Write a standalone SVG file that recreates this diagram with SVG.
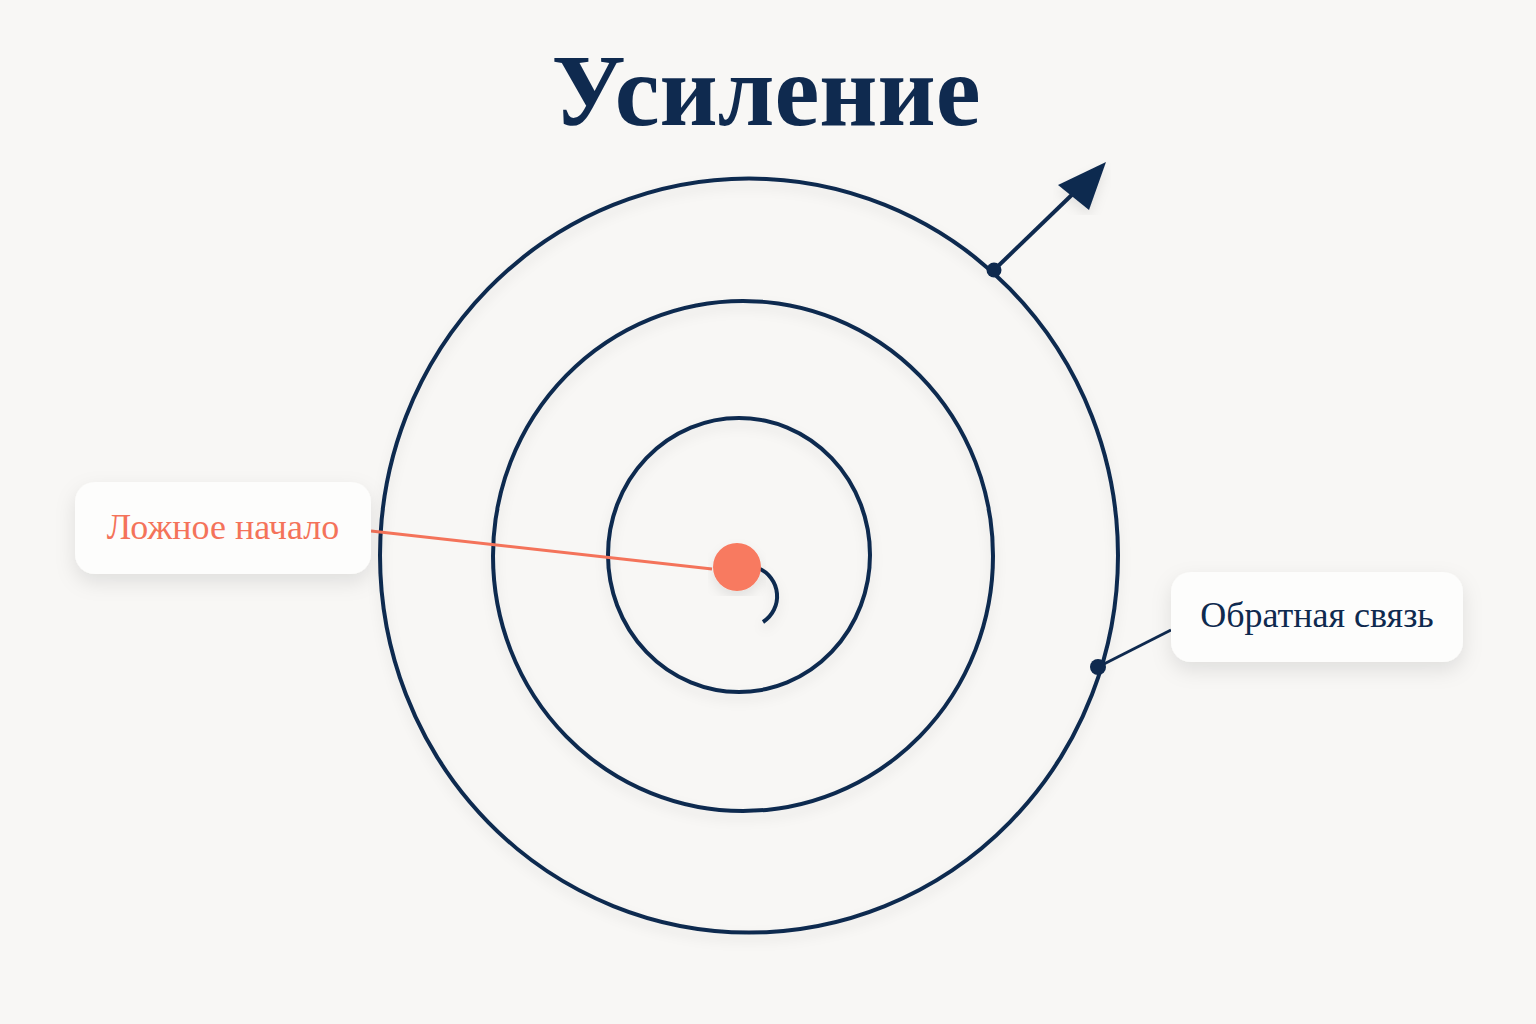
<svg xmlns="http://www.w3.org/2000/svg" width="1536" height="1024" viewBox="0 0 1536 1024">
  <defs>
    <filter id="shadow" x="-20%" y="-20%" width="140%" height="160%">
      <feDropShadow dx="0" dy="8" stdDeviation="10" flood-color="#000" flood-opacity="0.10"/>
    </filter>
    <filter id="soft" x="-10%" y="-10%" width="120%" height="120%">
      <feDropShadow dx="0" dy="6" stdDeviation="6" flood-color="#000" flood-opacity="0.09"/>
    </filter>
    <style>
      .ring { fill: none; stroke: #0f2a4f; stroke-width: 4; }
      .navy { stroke: #0f2a4f; stroke-width: 4; fill: none; stroke-linecap: butt; }
      .box { fill: #fdfdfc; }
      .lbl { font-family: "Liberation Serif", "DejaVu Serif", serif; font-size: 36px; }
    </style>
  </defs>
  <rect width="1536" height="1024" fill="#f8f7f5"/>

  <text x="766" y="125" text-anchor="middle" font-family="Liberation Serif, DejaVu Serif, serif" font-weight="bold" font-size="101" fill="#0f2a4f">Усиление</text>

  <g id="spiral" filter="url(#soft)">
    <ellipse class="ring" cx="749" cy="555.5" rx="369" ry="377"/>
    <ellipse class="ring" cx="743" cy="556" rx="250" ry="255"/>
    <ellipse class="ring" cx="739" cy="555" rx="131" ry="137"/>
    <path class="navy" d="M758 568 A30.5 30.5 0 0 1 763 622"/>
  </g>

  <g id="connectors">
    <line x1="371" y1="531" x2="712" y2="569" stroke="#f4735a" stroke-width="3"/>
    <line x1="994" y1="270" x2="1080" y2="187" stroke="#0f2a4f" stroke-width="4"/>
    <polygon points="1058,185 1106,162 1089,210" fill="#0f2a4f" filter="url(#soft)"/>
    <circle cx="994" cy="270" r="7.5" fill="#0f2a4f"/>
    <line x1="1098" y1="667" x2="1171" y2="630" stroke="#0f2a4f" stroke-width="3"/>
    <circle cx="1098" cy="667" r="8" fill="#0f2a4f"/>
  </g>

  <g id="start">
    <circle cx="737" cy="567" r="24" fill="#f87a60" filter="url(#soft)"/>
  </g>

  <g id="label-start">
    <rect class="box" x="75" y="482" width="296" height="92" rx="20" filter="url(#shadow)"/>
    <text class="lbl" x="223" y="539" text-anchor="middle" fill="#f4735a">Ложное начало</text>
  </g>

  <g id="label-feedback">
    <rect class="box" x="1171" y="572" width="292" height="90" rx="20" filter="url(#shadow)"/>
    <text class="lbl" x="1317" y="627" text-anchor="middle" fill="#0f2a4f">Обратная связь</text>
  </g>
</svg>
